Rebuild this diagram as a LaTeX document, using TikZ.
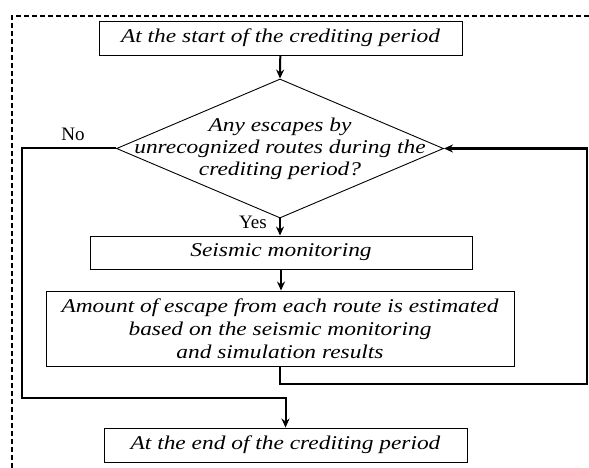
\documentclass[tikz,border=0pt]{standalone}
\usepackage{fontspec}
\setmainfont{Liberation Serif}
\newfontfamily\flowfont{Liberation Serif}[FakeStretch=1.2]
\usetikzlibrary{arrows.meta,shapes.geometric}

\begin{document}
\begin{tikzpicture}[
    x=1pt, y=-1pt,
    every node/.style={inner sep=0pt, font=\fontsize{19}{23}\selectfont},
    stepbox/.style={draw, line width=0.9pt, align=center, font=\flowfont\fontsize{19.5}{23}\selectfont\itshape},
    decision/.style={draw, diamond, line width=0.9pt, minimum width=327pt, minimum height=139pt},
    flow/.style={draw, line width=2pt, -{Stealth[length=9pt,width=8pt]}},
    frame/.style={draw, line width=1.3pt, dash pattern=on 5pt off 3pt}
]
\useasboundingbox (0,0) rectangle (589,468);
\draw[frame] (12,468) -- (12,16) -- (589,16);

\node[stepbox, minimum width=363pt, minimum height=34pt] (start) at (280.5,38) {At the start of the crediting period};
\node[decision] (check) at (280,148.5) {};
\node[align=center, font=\flowfont\fontsize{19.5}{22}\selectfont\itshape] (checktext) at (check) {Any escapes by\\unrecognized routes during the\\crediting period?};
\node[stepbox, minimum width=382pt, minimum height=33pt] (seismic) at (281,252.5) {Seismic monitoring};
\node[stepbox, minimum width=468pt, minimum height=75pt] (amount) at (280,328.5) {Amount of escape from each route is estimated\\based on the seismic monitoring\\and simulation results};
\node[stepbox, minimum width=363pt, minimum height=34pt] (finish) at (285.5,445) {At the end of the crediting period};

\node (no) at (73,134) {No};
\node (yes) at (253,222) {Yes};

\coordinate (noturn) at (22,398);
\coordinate (loopturn) at (587,384);

\draw[flow] (start) -- (check.north);
\draw[flow] (check.south) -- (check.south |- seismic.north);
\draw[flow] (seismic) -- (seismic.south |- amount.north);
\draw[flow] (check.west) -| (noturn) -| (finish.north);
\draw[flow, line width=2.2pt] (amount.south) |- (loopturn) |- (check.east);
\end{tikzpicture}
\end{document}
